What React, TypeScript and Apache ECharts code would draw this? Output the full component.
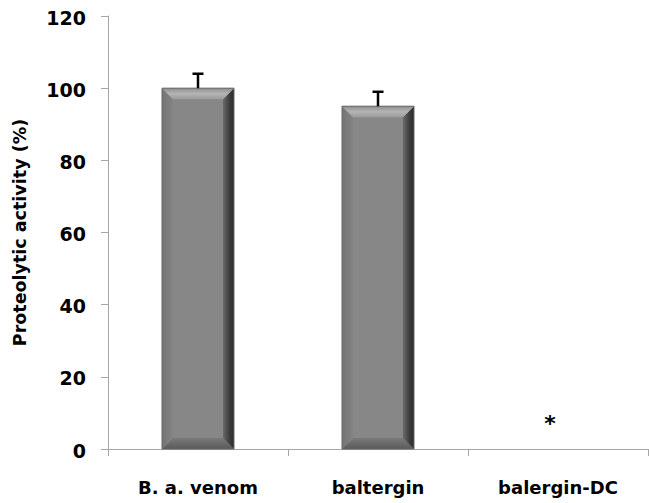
import React, { useEffect, useRef } from "react";
import * as echarts from "echarts";

const categories = ["B. a. venom", "baltergin", "balergin-DC"];
const activity = [100, 95, 0];
const errors = [4, 4, 0];
const sigMarks = ["", "", "*"];
const sigLevel = [0, 0, 7.5];
const yTicks = { min: 0, max: 120, interval: 20 };

const FONT = "'DejaVu Sans', sans-serif";

export default function App() {
  const ref = useRef<HTMLDivElement>(null);
  useEffect(() => {
    const chart = echarts.init(ref.current!, null, { renderer: "svg" });
    const barData = categories.map((c, i) => [i, activity[i]]);
    const errData = categories.map((c, i) => [i, activity[i], activity[i] + errors[i]]);
    const sigData = categories.map((c, i) => [i, sigLevel[i]]);

    chart.setOption({
      animation: false,
      backgroundColor: "#ffffff",
      grid: { left: 108, right: 1, top: 16, bottom: 54, containLabel: false },
      xAxis: {
        type: "category",
        data: categories,
        boundaryGap: true,
        axisLine: { lineStyle: { color: "#a6a6a6", width: 1 } },
        axisTick: { show: true, length: 7, interval: 0, lineStyle: { color: "#a6a6a6" } },
        axisLabel: {
          margin: 29,
          color: "#000",
          fontFamily: FONT,
          fontWeight: "bold",
          fontSize: 18,
          interval: 0,
        },
      },
      yAxis: {
        type: "value",
        min: yTicks.min,
        max: yTicks.max,
        interval: yTicks.interval,
        name: "Proteolytic activity (%)",
        nameLocation: "middle",
        nameGap: 79,
        nameRotate: 90,
        nameTextStyle: { fontFamily: FONT, fontWeight: "bold", fontSize: 17.5, color: "#000" },
        splitLine: { show: false },
        axisLine: { show: true, lineStyle: { color: "#a6a6a6", width: 1 } },
        axisTick: { show: true, length: 7, lineStyle: { color: "#a6a6a6" } },
        axisLabel: {
          margin: 22,
          color: "#000",
          fontFamily: FONT,
          fontWeight: "bold",
          fontSize: 19,
          verticalAlign: "top",
          padding: [-8, 0, 0, 0],
        },
      },
      series: [
        {
          type: "custom",
          data: barData,
          renderItem: (params: any, api: any) => {
            const idx = api.value(0);
            const val = api.value(1);
            if (!val) return null;
            const top = api.coord([idx, val]);
            const bot = api.coord([idx, 0]);
            const w = api.size([1, 0])[0] * 0.4;
            const x0 = top[0] - w / 2;
            const x1 = top[0] + w / 2;
            const y0 = top[1];
            const yb = bot[1];
            const b = 11;
            return {
              type: "group",
              children: [
                {
                  type: "rect",
                  shape: { x: x0, y: y0, width: w, height: yb - y0 },
                  style: { fill: "#878787" },
                },
                {
                  type: "polygon",
                  shape: { points: [[x0, yb], [x0 + b, yb - b], [x1 - b, yb - b], [x1, yb]] },
                  style: {
                    fill: new echarts.graphic.LinearGradient(0, 0, 0, 1, [
                      { offset: 0, color: "#7a7a7a" },
                      { offset: 1, color: "#5a5a5a" },
                    ]),
                  },
                },
                {
                  type: "polygon",
                  shape: { points: [[x0, y0], [x0 + b, y0 + b], [x0 + b, yb - b], [x0, yb]] },
                  style: {
                    fill: new echarts.graphic.LinearGradient(0, 0, 1, 0, [
                      { offset: 0, color: "#747474" },
                      { offset: 1, color: "#848484" },
                    ]),
                  },
                },
                {
                  type: "polygon",
                  shape: { points: [[x1, y0], [x1, yb], [x1 - b, yb - b], [x1 - b, y0 + b]] },
                  style: {
                    fill: new echarts.graphic.LinearGradient(0, 0, 1, 0, [
                      { offset: 0, color: "#6a6a6a" },
                      { offset: 0.6, color: "#3c3c3c" },
                      { offset: 1, color: "#2a2a2a" },
                    ]),
                  },
                },
                {
                  type: "polygon",
                  shape: { points: [[x0, y0], [x1, y0], [x1 - b, y0 + b], [x0 + b, y0 + b]] },
                  style: {
                    fill: new echarts.graphic.LinearGradient(0, 0, 0, 1, [
                      { offset: 0, color: "#8e8e8e" },
                      { offset: 0.5, color: "#b4b4b4" },
                      { offset: 1, color: "#9c9c9c" },
                    ]),
                  },
                },
                {
                  type: "rect",
                  shape: { x: x0, y: y0, width: w, height: yb - y0 },
                  style: { fill: "none", stroke: "#666666", lineWidth: 1 },
                },
              ],
            };
          },
          z: 2,
        },
        {
          type: "custom",
          data: errData,
          renderItem: (params: any, api: any) => {
            const idx = api.value(0);
            const lo = api.value(1);
            const hi = api.value(2);
            if (hi === lo) return null;
            const p0 = api.coord([idx, lo]);
            const p1 = api.coord([idx, hi]);
            const cap = 5.5;
            return {
              type: "group",
              children: [
                {
                  type: "line",
                  shape: { x1: p0[0], y1: p0[1], x2: p1[0], y2: p1[1] },
                  style: { stroke: "#000", lineWidth: 2.5 },
                },
                {
                  type: "line",
                  shape: { x1: p1[0] - cap, y1: p1[1], x2: p1[0] + cap, y2: p1[1] },
                  style: { stroke: "#000", lineWidth: 2.5 },
                },
              ],
            };
          },
          z: 3,
        },
        {
          type: "custom",
          data: sigData,
          renderItem: (params: any, api: any) => {
            const idx = api.value(0);
            const lvl = api.value(1);
            const mark = sigMarks[params.dataIndex];
            if (!mark) return null;
            const p = api.coord([idx, lvl]);
            return {
              type: "text",
              x: p[0] - 8,
              y: p[1] + 2,
              style: {
                text: mark,
                fontFamily: FONT,
                fontWeight: "bold",
                fontSize: 22,
                fill: "#000",
                align: "center",
                verticalAlign: "middle",
              },
            };
          },
          z: 4,
        },
      ],
    });
    return () => chart.dispose();
  }, []);
  return <div ref={ref} style={{ width: 649, height: 503, position: "absolute", left: 0, top: 0 }} />;
}
